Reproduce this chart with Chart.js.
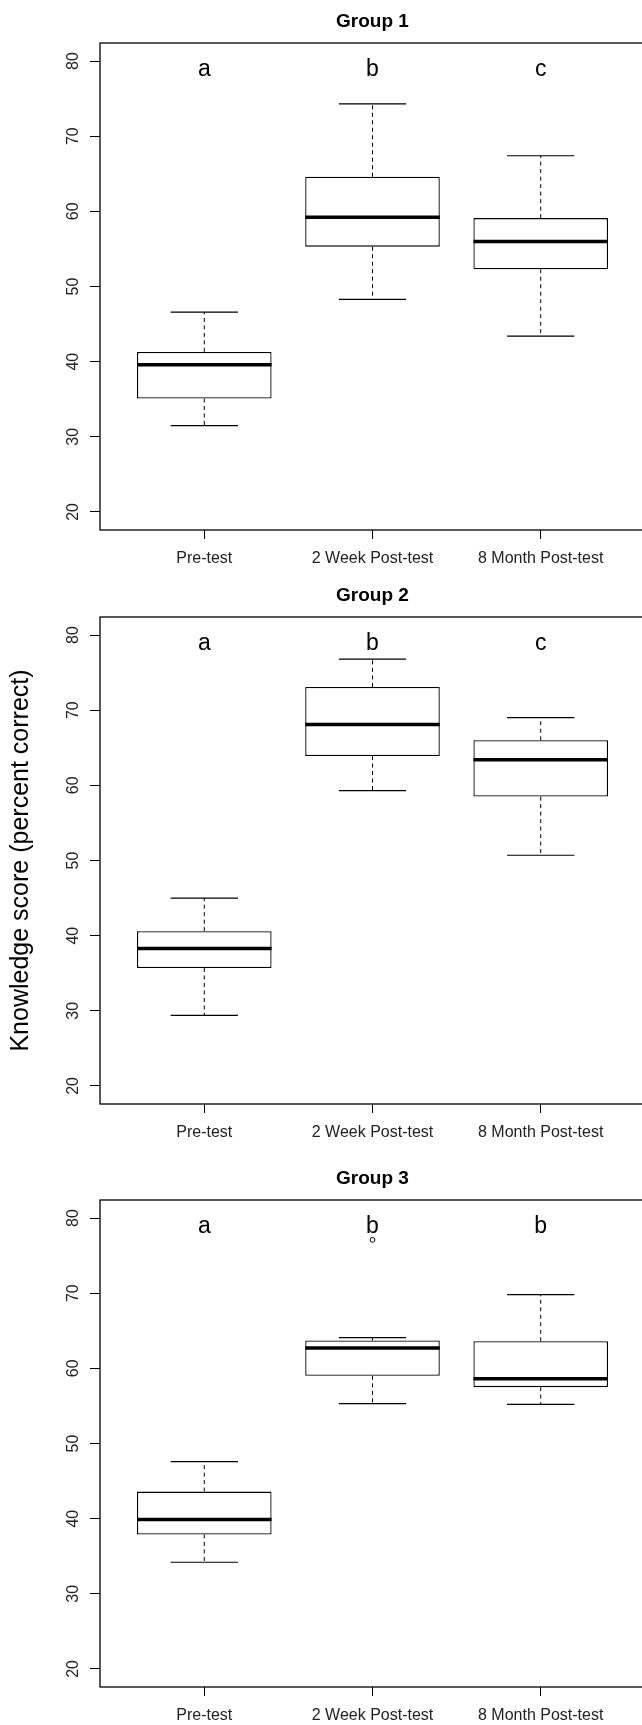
<!DOCTYPE html>
<html>
<head>
<meta charset="utf-8">
<script src="https://cdn.jsdelivr.net/npm/chart.js@4.4.1/dist/chart.umd.min.js"></script>
<style>
  html, body { margin: 0; padding: 0; background: #fff; overflow: hidden; }
  body { width: 642px; height: 1725px; position: relative; }
  canvas { position: absolute; left: 0; }
</style>
</head>
<body>
<canvas id="g1" width="660" height="575" style="top:0px"></canvas>
<canvas id="g2" width="660" height="575" style="top:574px"></canvas>
<canvas id="g3" width="660" height="575" style="top:1157px"></canvas>
<script>
const categories = ['Pre-test', '2 Week Post-test', '8 Month Post-test'];
const groupTitles = ['Group 1', 'Group 2', 'Group 3'];
const yTicks = [20, 30, 40, 50, 60, 70, 80];

// one row per group, one value per category
const lowWhisker    = [[31.5, 48.3, 43.4], [29.4, 59.3, 50.7], [34.2, 55.3, 55.2]];
const lowerQuartile = [[35.1, 55.3, 52.3], [35.7, 63.9, 58.5], [37.9, 59.0, 57.5]];
const medians       = [[39.6, 59.2, 56.0], [38.3, 68.1, 63.4], [39.9, 62.7, 58.6]];
const upperQuartile = [[41.3, 64.6, 59.1], [40.6, 73.1, 66.0], [43.6, 63.7, 63.6]];
const highWhisker   = [[46.6, 74.3, 67.4], [45.0, 76.8, 69.0], [47.6, 64.1, 69.8]];
const outliers      = [[null, null, null], [null, null, null], [null, 77.1, null]];
const letters       = [['a', 'b', 'c'], ['a', 'b', 'c'], ['a', 'b', 'b']];
const letterY = 78;

const boxParts = {
  id: 'boxParts',
  afterDatasetsDraw(chart, args, opts) {
    const g = opts.group;
    const ctx = chart.ctx;
    const xs = chart.scales.x, ys = chart.scales.y;
    const unit = xs.getPixelForValue(2) - xs.getPixelForValue(1);
    ctx.save();
    ctx.strokeStyle = '#000';
    categories.forEach((c, i) => {
      const x = xs.getPixelForValue(i + 1);
      // whiskers
      ctx.lineWidth = 1;
      ctx.setLineDash([4, 3.5]);
      ctx.beginPath();
      ctx.moveTo(x, ys.getPixelForValue(upperQuartile[g][i]));
      ctx.lineTo(x, ys.getPixelForValue(highWhisker[g][i]));
      ctx.moveTo(x, ys.getPixelForValue(lowerQuartile[g][i]));
      ctx.lineTo(x, ys.getPixelForValue(lowWhisker[g][i]));
      ctx.stroke();
      // caps
      ctx.setLineDash([]);
      ctx.lineWidth = 1.2;
      ctx.beginPath();
      [highWhisker[g][i], lowWhisker[g][i]].forEach(v => {
        const y = ys.getPixelForValue(v);
        ctx.moveTo(x - unit * 0.2, y);
        ctx.lineTo(x + unit * 0.2, y);
      });
      ctx.stroke();
      // median
      ctx.lineWidth = 3.5;
      ctx.beginPath();
      const ym = ys.getPixelForValue(medians[g][i]);
      ctx.moveTo(x - unit * 0.4, ym);
      ctx.lineTo(x + unit * 0.4, ym);
      ctx.stroke();
      // group letters
      ctx.fillStyle = '#000';
      ctx.font = '23px "Liberation Sans", Arial, sans-serif';
      ctx.textAlign = 'center';
      ctx.textBaseline = 'alphabetic';
      ctx.fillText(letters[g][i], x, ys.getPixelForValue(letterY));
    });
    // plot frame
    const a = chart.chartArea;
    ctx.lineWidth = 1.3;
    ctx.strokeRect(a.left, a.top, a.right - a.left, a.bottom - a.top);
    ctx.restore();
  }
};

function makeChart(id, g) {
  const outlierPoints = outliers[g]
    .map((v, i) => (v === null ? null : { x: i + 1, y: v }))
    .filter(p => p !== null);
  new Chart(document.getElementById(id), {
    type: 'bar',
    data: {
      datasets: [{
        data: categories.map((c, i) => ({ x: i + 1, y: [lowerQuartile[g][i], upperQuartile[g][i]] })),
        backgroundColor: '#fff',
        borderColor: '#000',
        borderWidth: 1.3,
        borderSkipped: false,
        barPercentage: 0.8,
        categoryPercentage: 1
      }, {
        type: 'scatter',
        data: outlierPoints,
        pointRadius: 2.4,
        pointBackgroundColor: '#fff',
        pointBorderColor: '#000',
        pointBorderWidth: 1
      }]
    },
    options: {
      responsive: false,
      animation: false,
      layout: { padding: { left: 0, right: 15, top: 0, bottom: 0 } },
      plugins: {
        legend: { display: false },
        tooltip: { enabled: false },
        title: {
          display: true,
          text: groupTitles[g],
          fullSize: false,
          color: '#000',
          font: { family: '"Liberation Sans", Arial, sans-serif', size: 19, weight: 'bold' },
          padding: { top: 10, bottom: 10.2 }
        },
        boxParts: { group: g }
      },
      scales: {
        x: {
          type: 'linear',
          min: 0.38,
          max: 3.62,
          offset: false,
          border: { display: false },
          grid: { display: true, offset: false, drawOnChartArea: false, drawTicks: true, tickLength: 9, color: '#000', lineWidth: 1 },
          afterBuildTicks: s => { s.ticks = categories.map((c, i) => ({ value: i + 1 })); },
          afterFit: s => { s.height = 45; },
          ticks: {
            autoSkip: false,
            maxRotation: 0,
            padding: 10,
            color: '#222',
            font: { family: '"Liberation Sans", Arial, sans-serif', size: 16 },
            callback: (v, i) => categories[i]
          }
        },
        y: {
          min: 17.6,
          max: 82.4,
          border: { display: false },
          grid: { display: true, drawOnChartArea: false, drawTicks: true, tickLength: 10, color: '#000', lineWidth: 1 },
          afterBuildTicks: s => { s.ticks = yTicks.map(v => ({ value: v })); },
          afterFit: s => { s.width = 100; },
          title: {
            display: g === 1,
            text: 'Knowledge score (percent correct)',
            color: '#000',
            font: { family: '"Liberation Sans", Arial, sans-serif', size: 25 },
            padding: { top: 6, bottom: 0 }
          },
          ticks: {
            minRotation: 90,
            maxRotation: 90,
            crossAlign: 'center',
            padding: 8,
            color: '#222',
            font: { family: '"Liberation Sans", Arial, sans-serif', size: 16 }
          }
        }
      }
    },
    plugins: [boxParts]
  });
}

makeChart('g1', 0);
makeChart('g2', 1);
makeChart('g3', 2);
</script>
</body>
</html>
